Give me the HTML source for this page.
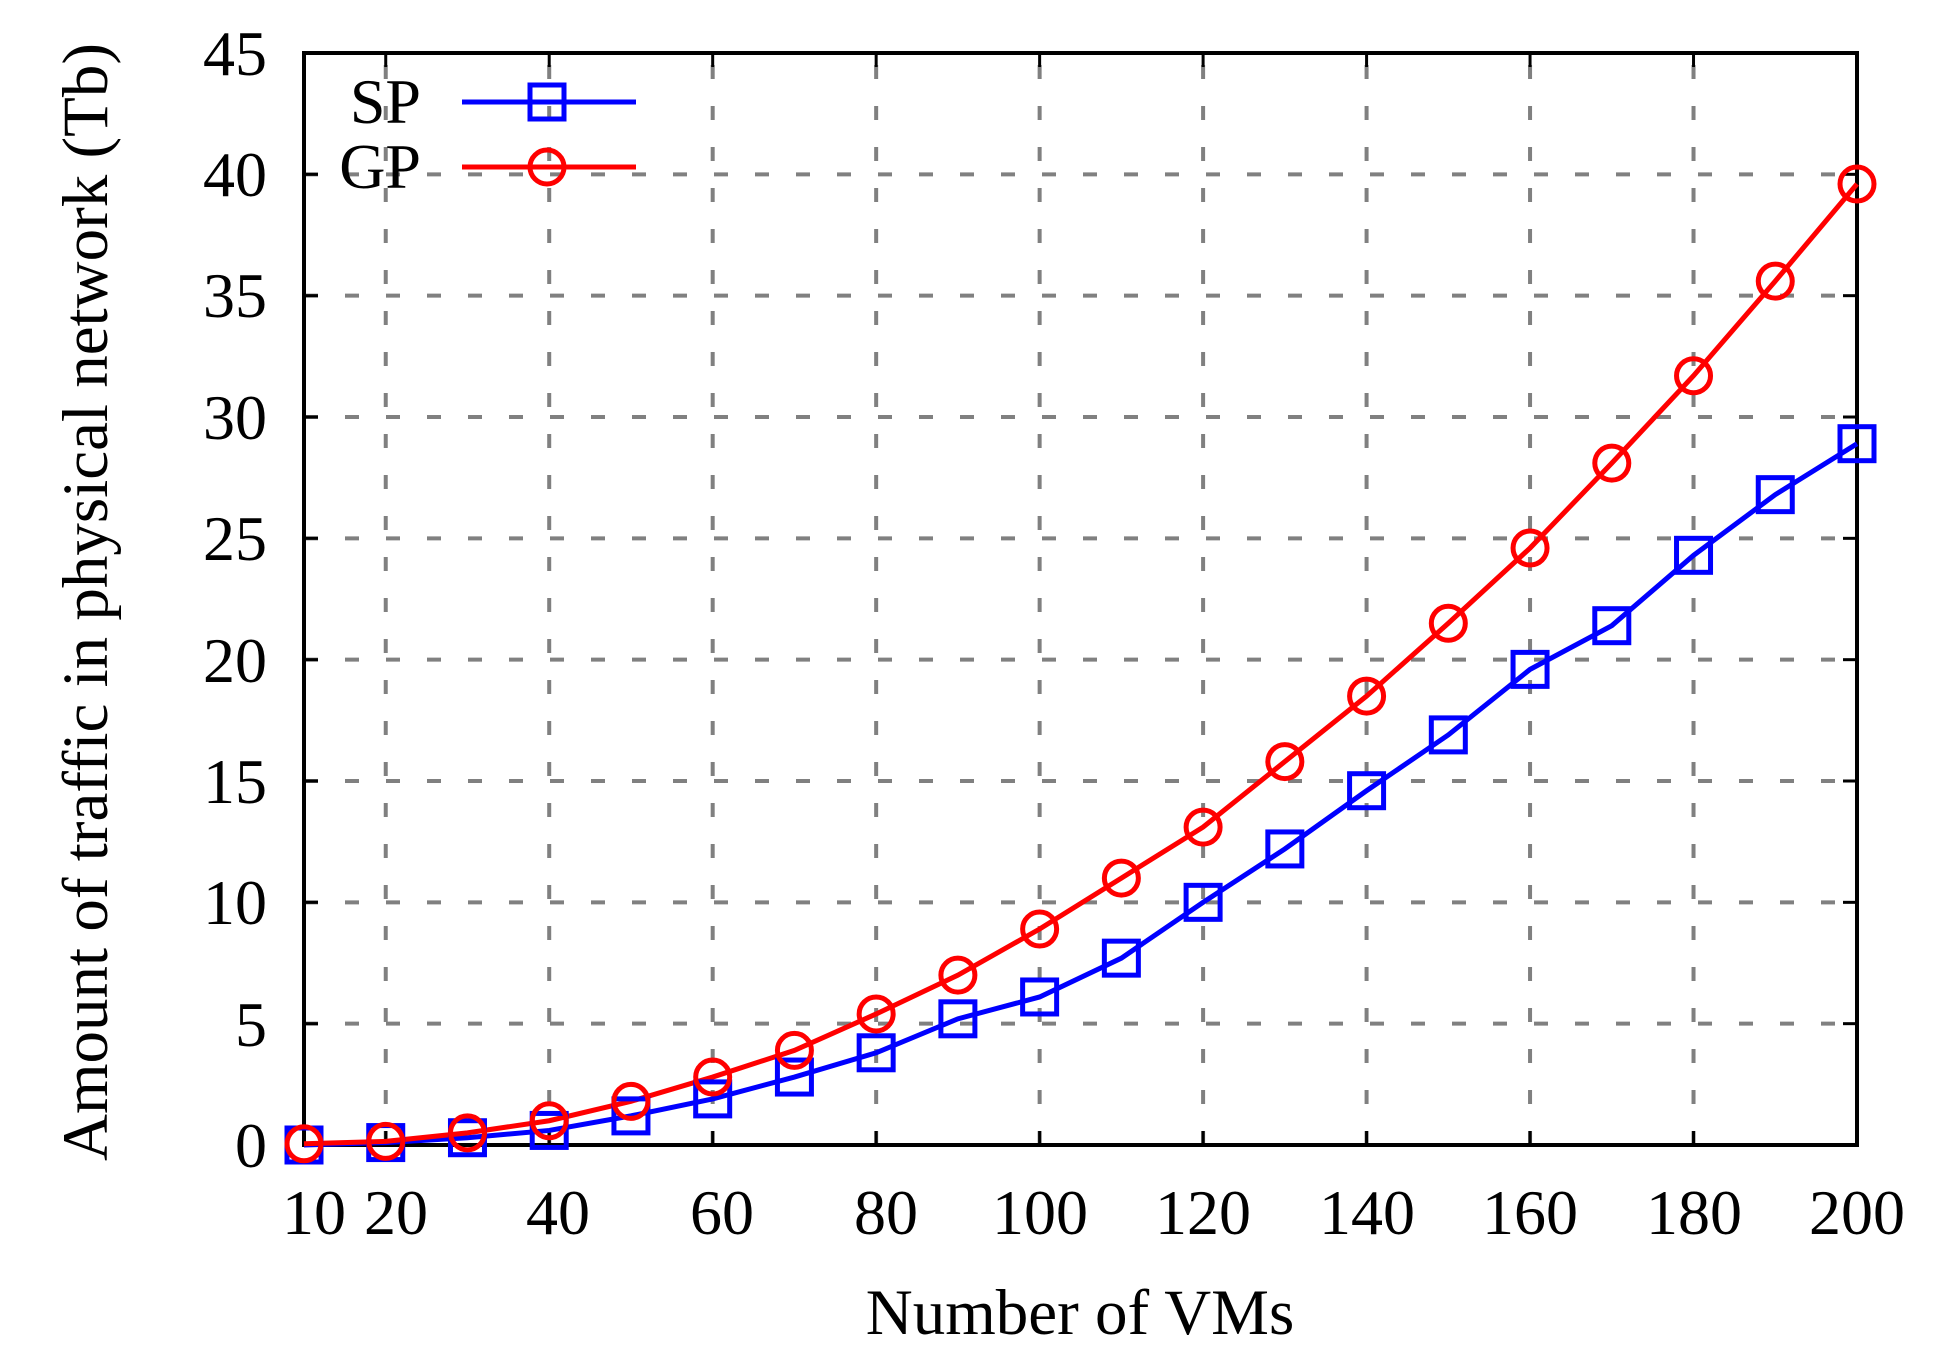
<!DOCTYPE html>
<html><head><meta charset="utf-8"><style>
html,body{margin:0;padding:0;background:#fff;}
svg{display:block;}
text{font-family:"Liberation Serif",serif;fill:#000;}
</style></head><body>
<svg id="s" width="1958" height="1361" viewBox="0 0 1958 1361" xmlns="http://www.w3.org/2000/svg">
<g id="grid" stroke="#808080" stroke-width="4" stroke-dasharray="14,27"></g>
<rect x="304" y="53" width="1553" height="1092" fill="none" stroke="#000" stroke-width="4"/>
<g id="ticks" stroke="#000" stroke-width="3"></g>
<g font-size="64" text-anchor="end">
<text x="267" y="1167">0</text><text x="267" y="1046">5</text><text x="267" y="924">10</text><text x="267" y="803">15</text><text x="267" y="682">20</text><text x="267" y="560">25</text><text x="267" y="439">30</text><text x="267" y="317">35</text><text x="267" y="196">40</text><text x="267" y="75">45</text>
</g>
<g font-size="64" text-anchor="middle">
<text x="314" y="1234">10</text><text x="396" y="1234">20</text><text x="558" y="1234">40</text><text x="722" y="1234">60</text><text x="886" y="1234">80</text><text x="1040" y="1234">100</text><text x="1203" y="1234">120</text><text x="1367" y="1234">140</text><text x="1530" y="1234">160</text><text x="1694" y="1234">180</text><text x="1857" y="1234">200</text>
</g>
<text x="1080" y="1334" font-size="65" text-anchor="middle">Number of VMs</text>
<text transform="translate(107,602) rotate(-90)" font-size="65" text-anchor="middle">Amount of traffic in physical network (Tb)</text>
<g font-size="64" text-anchor="end"><text x="421" y="123">SP</text><text x="421" y="188">GP</text></g>
<line x1="462" y1="102" x2="636" y2="102" stroke="#0000ff" stroke-width="5"/>
<rect x="530" y="85" width="34" height="34" fill="none" stroke="#0000ff" stroke-width="5"/>
<line x1="462" y1="167" x2="636" y2="167" stroke="#ff0000" stroke-width="5"/>
<circle cx="547" cy="167" r="17" fill="none" stroke="#ff0000" stroke-width="5"/>
<g id="series"></g>
</svg>
<script>
var L=304,R=1857,T=53,B=1145,NS="http://www.w3.org/2000/svg";
function X(v){return L+(v-10)/190*(R-L);}function Y(v){return B-v/45*(B-T);}
function el(p,t,a){var e=document.createElementNS(NS,t);for(var k in a)e.setAttribute(k,a[k]);p.appendChild(e);return e;}
var g=document.getElementById('grid'),tk=document.getElementById('ticks');
for(var x=20;x<200;x+=20){el(g,'line',{x1:X(x),y1:B,x2:X(x),y2:T});}
for(var y=5;y<45;y+=5){el(g,'line',{x1:L,y1:Y(y),x2:R,y2:Y(y)});}
[20,40,60,80,100,120,140,160,180].forEach(function(x){el(tk,'line',{x1:X(x),y1:B,x2:X(x),y2:B-14});el(tk,'line',{x1:X(x),y1:T,x2:X(x),y2:T+14});});
for(var y=5;y<45;y+=5){el(tk,'line',{x1:L,y1:Y(y),x2:L+14,y2:Y(y)});el(tk,'line',{x1:R,y1:Y(y),x2:R-14,y2:Y(y)});}
var xs=[];for(var i=10;i<=200;i+=10)xs.push(i);
var sp=[0,0.1,0.3,0.6,1.2,1.9,2.8,3.8,5.2,6.1,7.7,10.0,12.2,14.6,16.9,19.6,21.4,24.3,26.8,28.9];
var gp=[0.05,0.15,0.5,1.0,1.8,2.8,3.9,5.4,7.0,8.9,11.0,13.1,15.8,18.5,21.5,24.6,28.1,31.7,35.6,39.6];
var s=document.getElementById('series');
function pts(d){return xs.map(function(x,i){return X(x)+','+Y(d[i]);}).join(' ');}
el(s,'polyline',{points:pts(sp),fill:'none',stroke:'#0000ff','stroke-width':5});
el(s,'polyline',{points:pts(gp),fill:'none',stroke:'#ff0000','stroke-width':5});
xs.forEach(function(x,i){el(s,'rect',{x:X(x)-17,y:Y(sp[i])-17,width:34,height:34,fill:'none',stroke:'#0000ff','stroke-width':5});
el(s,'circle',{cx:X(x),cy:Y(gp[i]),r:17,fill:'none',stroke:'#ff0000','stroke-width':5});});
</script>
</body></html>
